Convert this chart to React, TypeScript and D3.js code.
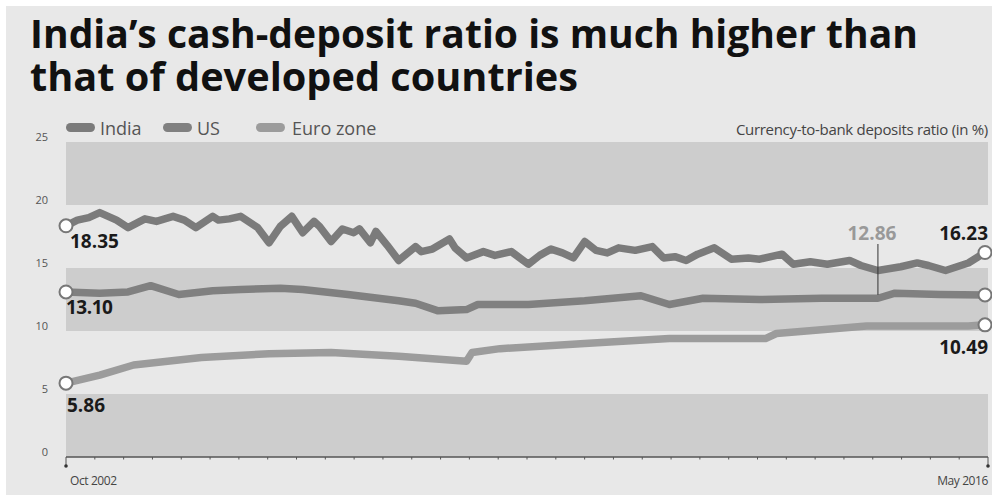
import React from "react";
import * as d3 from "d3";

const TITLE_LINES = ["India\u2019s cash-deposit ratio is much higher than", "that of developed countries"];
const SERIES_NAMES = ["India", "US", "Euro zone"];
const Y_TICKS = [0, 5, 10, 15, 20, 25];
const X_LABELS = ["Oct 2002", "May 2016"];
const UNIT_NOTE = "Currency-to-bank deposits ratio (in %)";

const indiaDates = [
  "2002-10","2002-12","2003-02","2003-04","2003-07","2003-09","2003-12","2004-02","2004-05","2004-07",
  "2004-09","2004-12","2005-01","2005-03","2005-05","2005-08","2005-10","2005-12","2006-02","2006-04",
  "2006-06","2006-07","2006-09","2006-11","2007-01","2007-02","2007-04","2007-05","2007-07","2007-09",
  "2007-12","2008-01","2008-03","2008-06","2008-07","2008-09","2008-12","2009-02","2009-05","2009-08",
  "2009-10","2009-12","2010-02","2010-04","2010-06","2010-08","2010-10","2010-12","2011-03","2011-06",
  "2011-08","2011-10","2011-12","2012-02","2012-05","2012-08","2012-11","2013-01","2013-05","2013-07",
  "2013-10","2014-01","2014-05","2014-07","2014-10","2015-02","2015-05","2015-07","2015-10","2016-02",
  "2016-05"];
const indiaValues = [
  18.35,18.8,19.0,19.4,18.8,18.2,18.9,18.7,19.1,18.8,
  18.2,19.1,18.8,18.9,19.1,18.2,17.0,18.3,19.1,17.8,
  18.7,18.3,17.1,18.1,17.8,18.1,17.0,17.9,16.8,15.6,
  16.7,16.3,16.5,17.3,16.6,15.8,16.3,16.0,16.3,15.3,
  16.0,16.5,16.2,15.8,17.1,16.4,16.2,16.6,16.4,16.7,
  15.8,15.9,15.6,16.1,16.6,15.7,15.8,15.7,16.1,15.3,
  15.5,15.3,15.6,15.2,14.8,15.1,15.4,15.2,14.8,15.4,
  16.23];

const usDates = ["2002-10","2003-04","2003-09","2004-01","2004-06","2004-12","2005-05","2005-12","2006-04","2006-12","2007-09","2007-12","2008-04","2008-09","2008-11","2009-08","2010-06","2011-04","2011-09","2012-03","2013-01","2013-12","2014-10","2015-01","2015-09","2016-05"];
const usValues = [13.10,13.0,13.1,13.6,12.9,13.2,13.3,13.4,13.3,12.9,12.4,12.2,11.6,11.7,12.1,12.1,12.4,12.8,12.1,12.6,12.5,12.6,12.6,13.0,12.9,12.86];

const euroDates = ["2002-10","2003-04","2003-10","2004-10","2005-10","2006-09","2007-09","2008-09","2008-10","2009-03","2010-06","2011-09","2013-02","2013-04","2014-08","2016-02","2016-05"];
const euroValues = [5.86,6.5,7.3,7.9,8.2,8.3,8.0,7.6,8.3,8.6,9.0,9.4,9.4,9.8,10.4,10.4,10.49];

const CALLOUT_DATE = "2014-10";

const parse = d3.timeParse("%Y-%m");
const W = 992, H = 495;
const X0 = 66, X1 = 985, PLOT_RIGHT = 988;

export default function App() {
  const x = d3.scaleTime().domain([parse("2002-10")!, parse("2016-05")!]).range([X0, X1]);
  const y = d3.scaleLinear().domain([0, 25]).range([457, 142]);

  const mk = (ds: string[], vs: number[]) => ds.map((d, i) => ({ date: parse(d)!, value: vs[i] }));
  const series = [
    { name: SERIES_NAMES[0], data: mk(indiaDates, indiaValues), color: "#7b7b7b" },
    { name: SERIES_NAMES[1], data: mk(usDates, usValues), color: "#808080" },
    { name: SERIES_NAMES[2], data: mk(euroDates, euroValues), color: "#9c9c9c" },
  ];
  const line = d3.line<{ date: Date; value: number }>().x(d => x(d.date)).y(d => y(d.value)).curve(d3.curveLinear);

  const bands = [[0, 5], [10, 15], [20, 25]];
  const nTicks = 32;
  const tickXs = d3.range(nTicks + 1).map(i => X0 + (i * (PLOT_RIGHT - X0)) / nTicks);

  const font = "'Open Sans', 'Noto Sans', sans-serif";
  const legendItems = [
    { label: SERIES_NAMES[0], sx: 66, tx: 100, color: "#7b7b7b" },
    { label: SERIES_NAMES[1], sx: 163, tx: 197, color: "#808080" },
    { label: SERIES_NAMES[2], sx: 256, tx: 292, color: "#9c9c9c" },
  ];

  const first = (s: typeof series[0]) => s.data[0];
  const last = (s: typeof series[0]) => s.data[s.data.length - 1];
  const usLast = last(series[1]);
  const cx = x(parse(CALLOUT_DATE)!);

  return (
    <svg width={W} height={H} style={{ position: "absolute", left: 0, top: 0, display: "block" }}>
      <rect x={0} y={0} width={W} height={H} fill="#ffffff" />
      <rect x={6} y={6} width={W - 6} height={H - 6} fill="#e8e8e8" />
      {TITLE_LINES.map((t, i) => (
        <text key={i} x={30} y={i === 0 ? 48 : 91} fontFamily={font} fontWeight={700} fontSize={39}
          fill="#111" textLength={i === 0 ? 888 : 548} lengthAdjust="spacingAndGlyphs">{t}</text>
      ))}
      {bands.map(([a, b], i) => (
        <rect key={i} x={X0} y={y(b)} width={PLOT_RIGHT - X0} height={y(a) - y(b)} fill="#cdcdcd" />
      ))}
      {Y_TICKS.map(t => (
        <text key={t} x={48} y={y(t) - 1} textAnchor="end" fontFamily={font} fontSize={11} fill="#555">{t}</text>
      ))}
      {legendItems.map(l => (
        <g key={l.label}>
          <rect x={l.sx} y={123} width={29} height={9} rx={4.5} fill={l.color} />
          <text x={l.tx} y={135} fontFamily={font} fontSize={18} fill="#555">{l.label}</text>
        </g>
      ))}
      <text x={PLOT_RIGHT} y={135} textAnchor="end" fontFamily={font} fontSize={15} fill="#444" letterSpacing={-0.3}>{UNIT_NOTE}</text>

      <line x1={X0} x2={PLOT_RIGHT} y1={457} y2={457} stroke="#555" strokeWidth={1.5} />
      {tickXs.map((tx, i) => (
        <line key={i} x1={tx} x2={tx} y1={457} y2={i === 0 || i === nTicks ? 466 : 459.5} stroke="#555" strokeWidth={1} />
      ))}
      <circle cx={X0} cy={466} r={1.8} fill="#333" />
      <circle cx={PLOT_RIGHT} cy={466} r={1.8} fill="#333" />
      <text x={70} y={485} fontFamily={font} fontSize={12} fill="#444" letterSpacing={-0.4}>{X_LABELS[0]}</text>
      <text x={PLOT_RIGHT} y={485} textAnchor="end" fontFamily={font} fontSize={12} fill="#444" letterSpacing={-0.4}>{X_LABELS[1]}</text>

      {series.slice().reverse().map(s => (
        <path key={s.name} d={line(s.data) || ""} fill="none" stroke={s.color} strokeWidth={7.5} strokeLinejoin="round" strokeLinecap="round" />
      ))}

      <line x1={cx} x2={cx} y1={244} y2={y(usLast.value)} stroke="#333" strokeWidth={1} />
      <text x={cx - 6} y={240} textAnchor="middle" fontFamily={font} fontWeight={700} fontSize={19} fill="#999">{usLast.value.toFixed(2)}</text>

      {series.map(s => (
        <g key={s.name + "c"}>
          <circle cx={x(first(s).date)} cy={y(first(s).value)} r={6.5} fill="#fff" stroke="#777" strokeWidth={2} />
          <circle cx={x(last(s).date)} cy={y(last(s).value)} r={6.5} fill="#fff" stroke="#777" strokeWidth={2} />
        </g>
      ))}

      <text x={70} y={248} fontFamily={font} fontWeight={700} fontSize={19} fill="#1a1a1a">{first(series[0]).value.toFixed(2)}</text>
      <text x={66} y={314} fontFamily={font} fontWeight={700} fontSize={19} fill="#1a1a1a" letterSpacing={-0.5}>{first(series[1]).value.toFixed(2)}</text>
      <text x={67} y={412} fontFamily={font} fontWeight={700} fontSize={19} fill="#1a1a1a">{first(series[2]).value.toFixed(2)}</text>
      <text x={PLOT_RIGHT} y={240} textAnchor="end" fontFamily={font} fontWeight={700} fontSize={19} fill="#1a1a1a">{last(series[0]).value.toFixed(2)}</text>
      <text x={PLOT_RIGHT} y={354} textAnchor="end" fontFamily={font} fontWeight={700} fontSize={19} fill="#1a1a1a">{last(series[2]).value.toFixed(2)}</text>
    </svg>
  );
}
